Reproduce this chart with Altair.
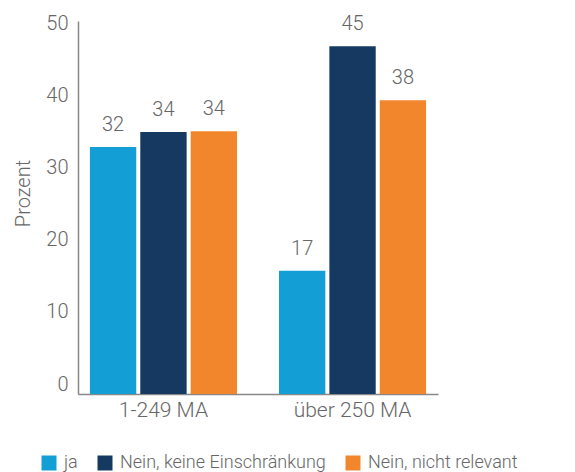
import altair as alt
import pandas as pd

groups = ["1-249 MA", "1-249 MA", "1-249 MA", "über 250 MA", "über 250 MA", "über 250 MA"]
answers = ["ja", "Nein, keine Einschränkung", "Nein, nicht relevant"] * 2
bar_values = [34.3, 36.4, 36.5, 17.1, 48.3, 40.8]
labels = ["32", "34", "34", "17", "45", "38"]

answer_order = ["ja", "Nein, keine Einschränkung", "Nein, nicht relevant"]
colors = ["#139FD5", "#153961", "#F2862C"]

df = pd.DataFrame({"group": groups, "answer": answers, "value": bar_values, "label": labels})

FONT = "Roboto"
TXT = "#666666"

x = alt.X("group:N", title=None, sort=["1-249 MA", "über 250 MA"],
          scale=alt.Scale(paddingInner=0.222, paddingOuter=0.063),
          axis=alt.Axis(labelAngle=0, ticks=False, domainColor="#888888", domainWidth=1.5,
                        labelFontSize=21, labelColor=TXT, labelFont=FONT, labelFontWeight=300,
                        labelPadding=5))
xoff = alt.XOffset("answer:N", sort=answer_order, scale=alt.Scale(paddingInner=0.08, paddingOuter=0))
y = alt.Y("value:Q", title="Prozent",
          scale=alt.Scale(domain=[0, 51.8], nice=False),
          axis=alt.Axis(values=[0, 10, 20, 30, 40, 50], grid=False, ticks=False,
                        domainColor="#888888", domainWidth=1.5, labelOffset=-10,
                        labelFontSize=20, labelColor=TXT, labelFont=FONT, labelFontWeight=300,
                        labelPadding=10, titleFontSize=20, titleColor=TXT, titleFont=FONT,
                        titleFontWeight=300, titlePadding=12, titleY=172))

bars = alt.Chart(df).mark_bar().encode(
    x=x, xOffset=xoff, y=y,
    color=alt.Color("answer:N", sort=answer_order, title=None,
                    scale=alt.Scale(domain=answer_order, range=colors),
                    legend=alt.Legend(orient="none", direction="horizontal", legendX=-38, legendY=433,
                                      symbolType="square", symbolSize=225, symbolStrokeWidth=0,
                                      labelFontSize=18, labelColor=TXT, labelFont=FONT,
                                      labelFontWeight=300, labelOffset=6, columnPadding=18,
                                      labelLimit=0)),
)

text = alt.Chart(df).mark_text(dy=-16, baseline="alphabetic", align="center", fontSize=20,
                               font=FONT, fontWeight=300, color=TXT).encode(
    x=x, xOffset=xoff, y=y, text="label:N"
)

chart = (bars + text).properties(width=360, height=373, padding={"left": 5, "top": 5, "right": 0, "bottom": 0}).configure_view(stroke=None)

chart.save("out.html", embed_options={"renderer": "svg", "actions": False})
